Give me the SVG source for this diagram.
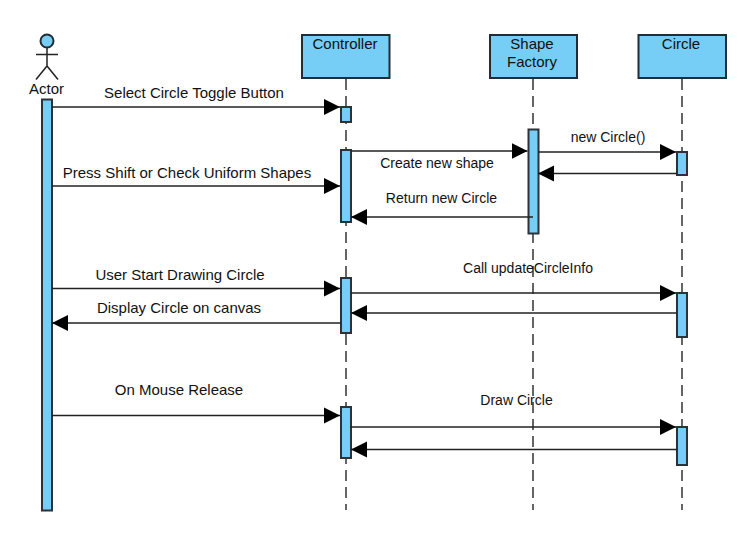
<svg xmlns="http://www.w3.org/2000/svg" width="743" height="556" viewBox="0 0 743 556">
<style>
text{font-family:"Liberation Sans",Arial,sans-serif;fill:#111;text-anchor:middle}
.a{font-size:15px}.b{font-size:14px}.c{font-size:14px}
.box{fill:#76cdf5;stroke:#222d33;stroke-width:2}
.bar{fill:#76cdf5;stroke:#2b3338;stroke-width:2}
.life{stroke:#333;stroke-width:1.5;stroke-dasharray:11 6;fill:none}
.msg{stroke:#222;stroke-width:1.5;fill:none;marker-end:url(#h)}
.st{stroke:#222;stroke-width:1.5;fill:none}
</style>
<defs><marker id="h" markerUnits="userSpaceOnUse" markerWidth="17" markerHeight="18" refX="16" refY="8.5" orient="auto"><path d="M0 0.5L16 8.5L0 16.500Z" fill="#000"/></marker></defs>
<rect width="743" height="556" fill="#fff"/>
<g id="lifelines">
<path class="life" d="M346 79V510"/><path class="life" d="M533 79V510"/><path class="life" d="M682 79V510"/>
</g>
<g id="actor">
<circle class="box" cx="47" cy="41" r="6.500"/>
<path class="st" d="M47 48V66M36 54.500H58M36 79.500L47 66L58 79.500"/>
<text class="a" x="46.500" y="94">Actor</text>
<rect class="bar" x="42" y="99.500" width="10" height="411"/>
</g>
<g id="controller">
<rect class="box" x="302" y="35" width="87.500" height="43"/>
<text class="a" x="345" y="48.500">Controller</text>
<rect class="bar" x="341" y="107" width="10" height="15"/>
<rect class="bar" x="341" y="150" width="10" height="72"/>
<rect class="bar" x="341" y="278" width="10" height="55"/>
<rect class="bar" x="341" y="407" width="10" height="51"/>
</g>
<g id="factory">
<rect class="box" x="490" y="35" width="87" height="43"/>
<text class="a" x="532" y="48.500">Shape</text>
<text class="a" x="532" y="66.500">Factory</text>
<rect class="bar" x="528.500" y="129.500" width="10" height="104"/>
</g>
<g id="circle">
<rect class="box" x="638.500" y="35" width="87.500" height="43"/>
<text class="a" x="681" y="48.500">Circle</text>
<rect class="bar" x="677" y="152" width="10" height="23"/>
<rect class="bar" x="677" y="293" width="10" height="44"/>
<rect class="bar" x="677" y="427" width="10" height="38"/>
</g>
<g id="connectors">
<path class="msg" d="M52 107H340"/>
<path class="msg" d="M351 151H527.500"/>
<path class="msg" d="M538 152H676"/>
<path class="msg" d="M677 173.500H538"/>
<path class="msg" d="M52 186H340"/>
<path class="msg" d="M533 217H351"/>
<path class="msg" d="M52 288.500H340"/>
<path class="msg" d="M341 323H52"/>
<path class="msg" d="M351 293H676"/>
<path class="msg" d="M677 313H351"/>
<path class="msg" d="M52 415.500H340"/>
<path class="msg" d="M350 427H676"/>
<path class="msg" d="M677 449.500H351"/>
</g>
<g id="labels">
<text class="a" x="194" y="98">Select Circle Toggle Button</text>
<text class="a" x="187" y="178">Press Shift or Check Uniform Shapes</text>
<text class="a" x="180" y="280">User Start Drawing Circle</text>
<text class="a" x="179" y="313">Display Circle on canvas</text>
<text class="a" x="179" y="395">On Mouse Release</text>
<text class="b" x="437" y="168">Create new shape</text>
<text class="b" x="441.500" y="203">Return new Circle</text>
<text class="c" x="608" y="142">new Circle()</text>
<text class="c" x="528" y="273">Call updateCircleInfo</text>
<text class="c" x="516.500" y="405">Draw Circle</text>
</g>
</svg>
